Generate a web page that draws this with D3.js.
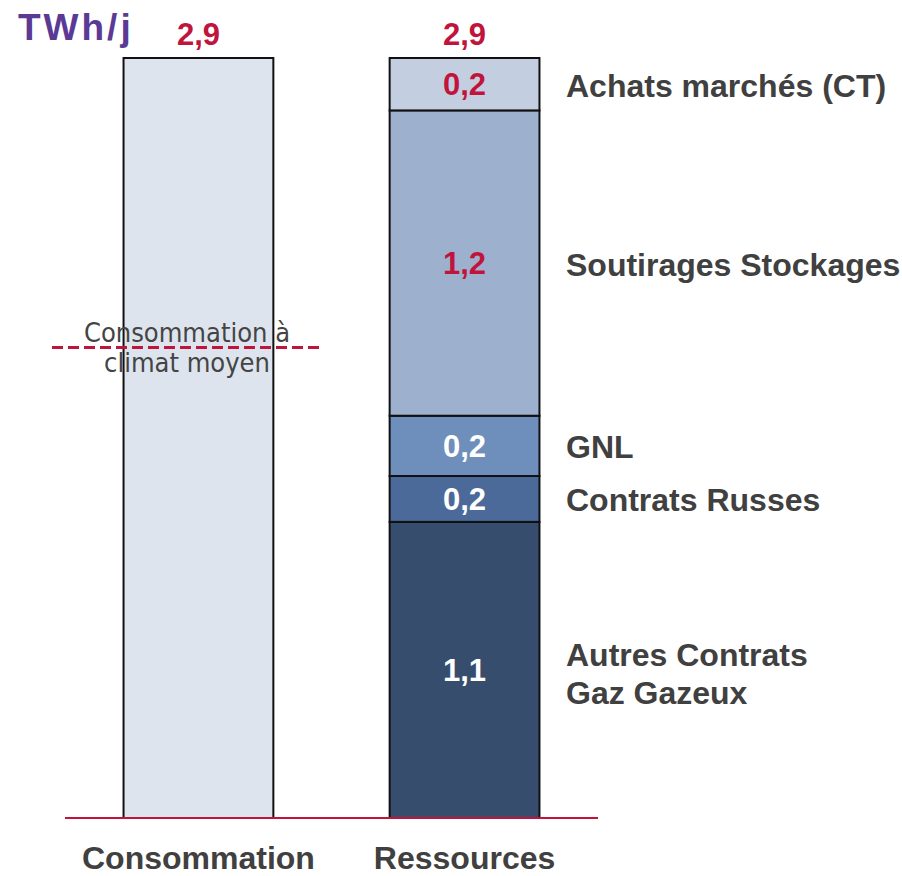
<!DOCTYPE html>
<html>
<head>
<meta charset="utf-8">
<script src="https://cdn.jsdelivr.net/npm/d3@7"></script>
<style>
  body { margin: 0; background: #fff; }
</style>
</head>
<body>
<div id="chart"></div>
<script>
// Chart data
const columns = ["Consommation", "Ressources"];
const consommation = 2.9;
const climatMoyen = 1.795;
const segmentNames = ["Autres Contrats\nGaz Gazeux", "Contrats Russes", "GNL", "Soutirages Stockages", "Achats marchés (CT)"];
const segmentValues = [1.13, 0.175, 0.23, 1.165, 0.2];
const segmentColors = ["#364d6d", "#4b6a99", "#6e8fbb", "#9db1cf", "#c3cfe0"];
const segmentLabelColors = ["#ffffff", "#ffffff", "#ffffff", "#c0143c", "#c0143c"];

const width = 902, height = 876;
const red = "#c0143c";
const fmt = v => d3.format(".1f")(v).replace(".", ",");

const svg = d3.select("#chart").append("svg")
    .attr("width", width)
    .attr("height", height)
    .attr("font-family", "Arial, 'Liberation Sans', sans-serif");

// Scales
const x = d3.scaleBand()
    .domain(columns)
    .range([65, 598])
    .paddingInner(0.437)
    .paddingOuter(0.22);

const y = d3.scaleLinear()
    .domain([0, 2.9])
    .range([818, 58]);

// Stack the resources
let acc = 0;
const stacked = segmentValues.map((v, i) => {
    const d = { name: segmentNames[i], value: v, y0: acc, y1: acc + v, color: segmentColors[i], labelColor: segmentLabelColors[i] };
    acc += v;
    return d;
});

// Consommation bar
svg.append("rect")
    .attr("x", x("Consommation"))
    .attr("y", y(consommation))
    .attr("width", x.bandwidth())
    .attr("height", y(0) - y(consommation))
    .attr("fill", "#dde4ee")
    .attr("stroke", "#111")
    .attr("stroke-width", 2);

// Resource segments
svg.append("g").selectAll("rect")
    .data(stacked)
    .join("rect")
    .attr("x", x("Ressources"))
    .attr("y", d => y(d.y1))
    .attr("width", x.bandwidth())
    .attr("height", d => y(d.y0) - y(d.y1))
    .attr("fill", d => d.color)
    .attr("stroke", "#111")
    .attr("stroke-width", 2);

// Segment value labels
svg.append("g").selectAll("text")
    .data(stacked)
    .join("text")
    .attr("x", x("Ressources") + x.bandwidth() / 2)
    .attr("y", d => y((d.y0 + d.y1) / 2))
    .attr("dy", "0.36em")
    .attr("text-anchor", "middle")
    .attr("font-size", 31)
    .attr("font-weight", "bold")
    .attr("fill", d => d.labelColor)
    .text(d => fmt(d.value));

// Segment names on the right
const names = svg.append("g").selectAll("text")
    .data(stacked)
    .join("text")
    .attr("x", 566)
    .attr("y", d => y((d.y0 + d.y1) / 2) + 1)
    .attr("font-size", 32)
    .attr("font-weight", "bold")
    .attr("fill", "#404040");

names.each(function (d) {
    const lines = d.name.split("\n");
    const t = d3.select(this);
    lines.forEach((line, i) => {
        t.append("tspan")
            .attr("x", 566)
            .attr("dy", i === 0 ? (0.36 - (lines.length - 1) * 0.52) + "em" : "1.18em")
            .text(line);
    });
});

// Totals above bars
svg.append("g").selectAll("text")
    .data([consommation, acc])
    .join("text")
    .attr("x", (d, i) => x(columns[i]) + x.bandwidth() / 2)
    .attr("y", y(2.9) - 13)
    .attr("text-anchor", "middle")
    .attr("font-size", 31)
    .attr("font-weight", "bold")
    .attr("fill", red)
    .text(d => fmt(d));

// Unit label
svg.append("text")
    .attr("x", 18)
    .attr("y", 40)
    .attr("font-size", 37)
    .attr("font-weight", "bold")
    .attr("letter-spacing", 3)
    .attr("fill", "#5b3a96")
    .text("TWh/j");

// Baseline
svg.append("line")
    .attr("x1", 65).attr("x2", 598)
    .attr("y1", y(0)).attr("y2", y(0))
    .attr("stroke", red)
    .attr("stroke-width", 2);

// Average climate consumption
svg.append("line")
    .attr("x1", 52).attr("x2", 323)
    .attr("y1", y(climatMoyen)).attr("y2", y(climatMoyen))
    .attr("stroke", red)
    .attr("stroke-width", 3)
    .attr("stroke-dasharray", "11,5");

svg.append("text")
    .attr("x", 187)
    .attr("y", y(climatMoyen))
    .attr("text-anchor", "middle")
    .attr("font-size", 27)
    .attr("fill", "#444")
    .attr("font-family", "'DejaVu Sans Condensed', 'DejaVu Sans', sans-serif")
    .selectAll("tspan")
    .data(["Consommation à", "climat moyen"])
    .join("tspan")
    .attr("x", 187)
    .attr("dy", (d, i) => i === 0 ? "-0.22em" : "1.12em")
    .text(d => d);

// Column labels
svg.append("g").selectAll("text")
    .data(columns)
    .join("text")
    .attr("x", d => x(d) + x.bandwidth() / 2)
    .attr("y", 869)
    .attr("text-anchor", "middle")
    .attr("font-size", 32)
    .attr("font-weight", "bold")
    .attr("fill", "#404040")
    .text(d => d);
</script>
</body>
</html>
